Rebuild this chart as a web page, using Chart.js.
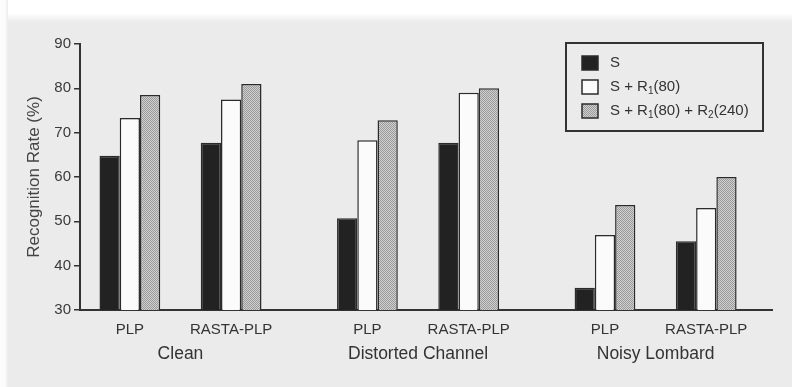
<!DOCTYPE html>
<html>
<head>
<meta charset="utf-8">
<script src="https://cdn.jsdelivr.net/npm/chart.js@4"></script>
<style>
  html, body { margin: 0; padding: 0; }
  body { width: 792px; height: 387px; background: #ebebeb; position: relative; overflow: hidden; }
  #topband { position: absolute; left: 0; top: 0; width: 792px; height: 22px; background: linear-gradient(#ffffff 60%, #ebebeb); }
  #leftband { position: absolute; left: 0; top: 0; width: 8px; height: 387px; background: linear-gradient(90deg, #fcfcfc 60%, #ebebeb); }
  #wrap { position: absolute; left: 0; top: 0; width: 792px; height: 387px; }
</style>
</head>
<body>
<div id="topband"></div>
<div id="leftband"></div>
<div id="wrap"><canvas id="chart"></canvas></div>
<script>
// data
const groups = ['Clean', 'Distorted Channel', 'Noisy Lombard'];
const frontEnds = ['PLP', 'RASTA-PLP'];
const seriesNames = ['S', 'S + R_1(80)', 'S + R_1(80) + R_2(240)'];
const plpS = [64.8, 50.7, 35.0];
const plpR1 = [73.3, 68.3, 46.9];
const plpR2 = [78.5, 72.8, 53.7];
const rastaS = [67.7, 67.7, 45.5];
const rastaR1 = [77.5, 79.0, 53.0];
const rastaR2 = [81.0, 80.0, 60.0];
const yTicks = [30, 40, 50, 60, 70, 80, 90];

const FONT = '"Liberation Sans", Arial, Helvetica, sans-serif';
const INK = '#2b2b2b';

// stippled grey used by the third series
function makeStipple() {
    const c = document.createElement('canvas');
    c.width = 2; c.height = 2;
    const g = c.getContext('2d');
    g.fillStyle = '#d0d0d0';
    g.fillRect(0, 0, 2, 2);
    g.fillStyle = '#9a9a9a';
    g.fillRect(0, 0, 1, 1);
    g.fillRect(1, 1, 1, 1);
    return g.createPattern(c, 'repeat');
}

const fills = ['#222222', '#fbfbfb', makeStipple()];

function toPoints(values) {
    return groups.map((g, i) => ({ x: i, y: values == null ? null : values[i] }));
}

function barSet(label, values, k) {
    return {
        label: label,
        data: toPoints(values),
        backgroundColor: fills[k],
        borderColor: INK,
        borderWidth: 1.5,
        borderSkipped: 'bottom'
    };
}

const datasets = [
    barSet(seriesNames[0], plpS, 0),
    barSet(seriesNames[1], plpR1, 1),
    barSet(seriesNames[2], plpR2, 2),
    { label: '', data: toPoints(null) },   // gap between PLP and RASTA-PLP
    { label: '', data: toPoints(null) },
    barSet(seriesNames[0], rastaS, 0),
    barSet(seriesNames[1], rastaR1, 1),
    barSet(seriesNames[2], rastaR2, 2)
];

// PLP / RASTA-PLP under each block, condition name under each group
const groupLabels = {
    id: 'groupLabels',
    afterDraw(chart) {
        const ctx = chart.ctx;
        const xs = chart.scales.x;
        ctx.save();
        ctx.fillStyle = '#333';
        ctx.textAlign = 'center';
        ctx.textBaseline = 'middle';
        ctx.font = '15px ' + FONT;
        [1, 6].forEach((dsIndex, j) => {
            chart.getDatasetMeta(dsIndex).data.forEach(bar => {
                ctx.fillText(frontEnds[j], bar.x, 330);
            });
        });
        ctx.font = '17.5px ' + FONT;
        groups.forEach((g, i) => ctx.fillText(g, xs.getPixelForValue(i), 354));
        ctx.restore();
    }
};

// text with _n written as a subscript
function drawSubText(ctx, text, x, y, size) {
    const parts = text.split(/_(\d)/);
    parts.forEach((p, i) => {
        if (i % 2 === 1) {
            ctx.font = Math.round(size * 0.68) + 'px ' + FONT;
            ctx.fillText(p, x, y + size * 0.3);
        } else {
            ctx.font = size + 'px ' + FONT;
            ctx.fillText(p, x, y);
        }
        x += ctx.measureText(p).width;
    });
}

const boxLegend = {
    id: 'boxLegend',
    afterDraw(chart) {
        const ctx = chart.ctx;
        ctx.save();
        ctx.strokeStyle = '#333';
        ctx.lineWidth = 2;
        ctx.strokeRect(566, 43, 197, 88);
        ctx.textBaseline = 'middle';
        ctx.textAlign = 'left';
        seriesNames.forEach((name, k) => {
            const cy = 63 + k * 24;
            ctx.fillStyle = fills[k];
            ctx.fillRect(582, cy - 7, 16, 14);
            ctx.strokeStyle = INK;
            ctx.lineWidth = 1.5;
            ctx.strokeRect(582, cy - 7, 16, 14);
            ctx.fillStyle = '#333';
            drawSubText(ctx, name, 610, cy, 15);
        });
        ctx.restore();
    }
};

const ctx = document.getElementById('chart').getContext('2d');
new Chart(ctx, {
    type: 'bar',
    data: { datasets: datasets },
    plugins: [groupLabels, boxLegend],
    options: {
        responsive: true,
        maintainAspectRatio: false,
        animation: false,
        categoryPercentage: 0.682,
        barPercentage: 1.0,
        layout: { padding: { top: 44, right: 20, bottom: 0, left: 0 } },
        plugins: {
            legend: { display: false },
            tooltip: { enabled: false }
        },
        scales: {
            x: {
                type: 'linear',
                offset: false,
                min: -0.423,
                max: 2.49,
                afterBuildTicks: s => { s.ticks = groups.map((g, i) => ({ value: i })); },
                afterFit: s => { s.height = 77; },
                grid: { display: false },
                border: { display: true, color: '#333', width: 2 },
                ticks: { display: false }
            },
            y: {
                min: 30,
                max: 90,
                afterBuildTicks: s => { s.ticks = yTicks.map(v => ({ value: v })); },
                afterFit: s => { s.width = 80; },
                grid: { drawOnChartArea: false, tickLength: 6, color: '#333', lineWidth: 1.5 },
                border: { color: '#333', width: 2 },
                ticks: { color: '#3a3a3a', padding: 3, font: { size: 15, family: FONT } },
                title: {
                    display: true,
                    text: 'Recognition Rate (%)',
                    color: '#444',
                    font: { size: 17, family: FONT },
                    padding: { top: 24, bottom: 0 }
                }
            }
        }
    }
});
</script>
</body>
</html>
